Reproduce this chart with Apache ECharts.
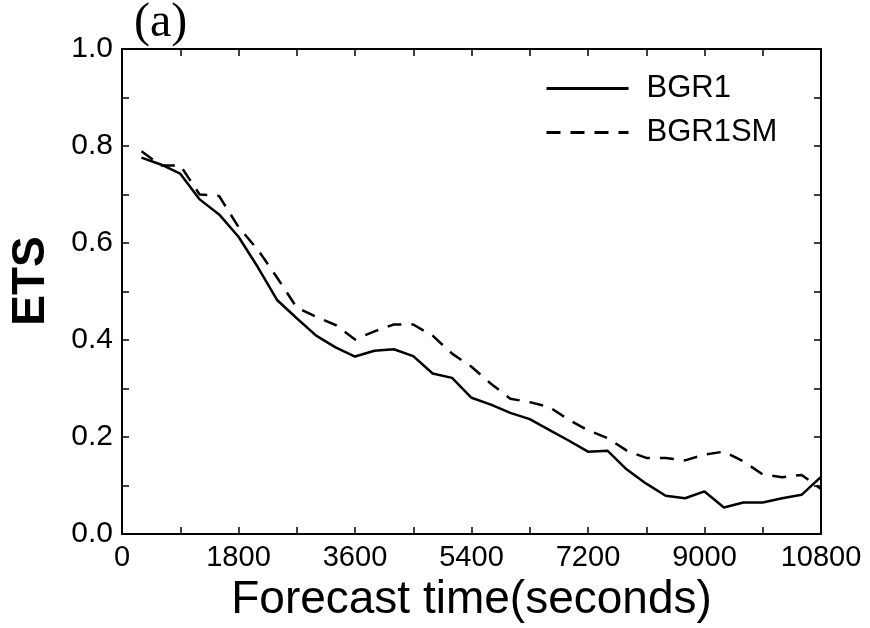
<!DOCTYPE html>
<html>
<head>
<meta charset="utf-8">
<script src="https://cdn.jsdelivr.net/npm/echarts@6/dist/echarts.min.js"></script>
<style>
  html, body { margin: 0; padding: 0; background: #fff; }
  #chart { width: 870px; height: 628px; }
</style>
</head>
<body>
<div id="chart"></div>
<script>
// forecast times (s)
var times = [300, 600, 900, 1200, 1500, 1800, 2100, 2400, 2700, 3000, 3300, 3600,
  3900, 4200, 4500, 4800, 5100, 5400, 5700, 6000, 6300, 6600, 6900, 7200,
  7500, 7800, 8100, 8400, 8700, 9000, 9300, 9600, 9900, 10200, 10500, 10800];
var bgr1 = [0.776, 0.762, 0.743, 0.690, 0.659, 0.613, 0.550, 0.482, 0.445, 0.409, 0.385, 0.366,
  0.378, 0.381, 0.367, 0.331, 0.322, 0.281, 0.267, 0.250, 0.237, 0.215, 0.193, 0.170,
  0.172, 0.133, 0.104, 0.079, 0.074, 0.088, 0.055, 0.065, 0.065, 0.074, 0.081, 0.118];
var bgr1sm = [0.789, 0.760, 0.760, 0.700, 0.697, 0.633, 0.586, 0.528, 0.467, 0.448, 0.431, 0.401,
  0.418, 0.432, 0.432, 0.409, 0.372, 0.345, 0.310, 0.279, 0.272, 0.262, 0.236, 0.214,
  0.198, 0.172, 0.157, 0.157, 0.152, 0.164, 0.170, 0.150, 0.123, 0.117, 0.122, 0.093];
var xLabels = [0, 1800, 3600, 5400, 7200, 9000, 10800];
var yLabels = [0.0, 0.2, 0.4, 0.6, 0.8, 1.0];

var font = "Liberation Sans";

function pairs(ys) {
  return times.map(function (t, i) { return [t, ys[i]]; });
}

function boxAxis(extra) {
  // shared look of the frame axes
  return Object.assign({
    type: "value",
    axisLine: { show: true, onZero: false, lineStyle: { color: "#000", width: 2 } },
    axisTick: { show: true, inside: true, length: 7, lineStyle: { color: "#000", width: 1.5 } },
    splitLine: { show: false }
  }, extra);
}

var chart = echarts.init(document.getElementById("chart"));
chart.setOption({
  animation: false,
  backgroundColor: "#fff",
  grid: { left: 122, right: 49, top: 49, bottom: 92 },
  title: {
    text: "(a)",
    left: 129,
    top: -6,
    textStyle: { fontFamily: "Liberation Serif", fontSize: 48, fontWeight: "normal", color: "#000" }
  },
  legend: {
    show: true,
    orient: "vertical",
    left: 545,
    top: 73,
    right: "auto",
    bottom: "auto",
    padding: 0,
    itemWidth: 82,
    itemHeight: 30,
    itemGap: 13,
    data: ["BGR1", "BGR1SM"],
    itemStyle: { opacity: 0 },
    lineStyle: { width: 3 },
    textStyle: { fontFamily: font, fontSize: 31, color: "#000", padding: [0, 0, 0, 13] }
  },
  graphic: [{
    type: "text",
    x: 31,
    y: 281,
    rotation: Math.PI / 2,
    style: {
      text: "ETS",
      font: "bold 46px " + font,
      fill: "#000",
      align: "center",
      verticalAlign: "middle"
    }
  }],
  xAxis: [
    boxAxis({
      min: 0, max: 10800, interval: 900,
      name: "Forecast time(seconds)",
      nameLocation: "middle",
      nameGap: 36,
      nameTextStyle: { fontFamily: font, fontSize: 46, color: "#000" },
      axisLabel: {
        margin: 9, fontFamily: font, fontSize: 29, color: "#000",
        formatter: function (v) { return xLabels.indexOf(v) >= 0 ? String(v) : ""; }
      }
    }),
    boxAxis({ position: "top", min: 0, max: 10800, interval: 900, axisLabel: { show: false } })
  ],
  yAxis: [
    boxAxis({
      min: 0, max: 1, interval: 0.1,
      axisLabel: {
        margin: 9, fontFamily: font, fontSize: 30, color: "#000",
        formatter: function (v) {
          var r = Math.round(v * 10) / 10;
          return yLabels.indexOf(r) >= 0 ? r.toFixed(1) : "";
        }
      }
    }),
    boxAxis({ position: "right", min: 0, max: 1, interval: 0.1, axisLabel: { show: false } })
  ],
  series: [
    {
      name: "BGR1",
      type: "line",
      data: pairs(bgr1),
      symbol: "none",
      lineStyle: { color: "#000", width: 2.5, type: "solid" },
      itemStyle: { color: "#000" }
    },
    {
      name: "BGR1SM",
      type: "line",
      data: pairs(bgr1sm),
      symbol: "none",
      lineStyle: { color: "#000", width: 2.5, type: [14, 10] },
      itemStyle: { color: "#000" }
    }
  ]
});
</script>
</body>
</html>
